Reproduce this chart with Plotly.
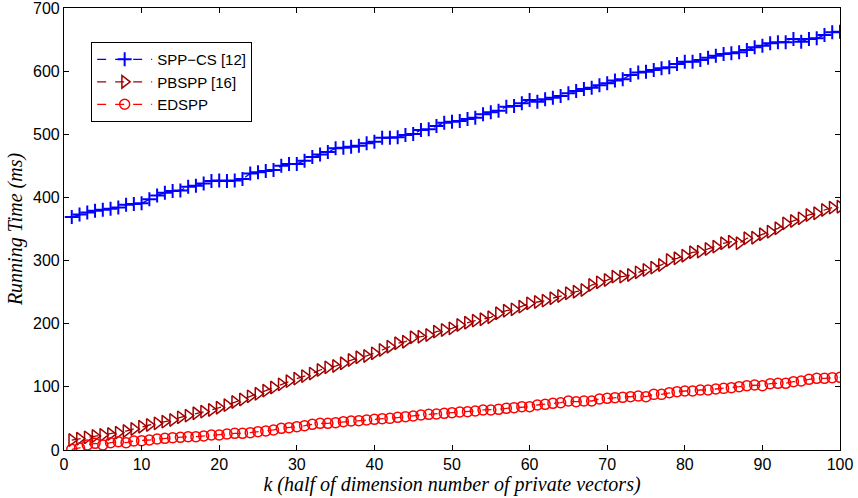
import plotly.graph_objects as go

k = list(range(1, 101))

spp_cs = [369, 373, 376, 379, 380.6, 382, 384, 388.5, 389.6, 390.7,
          397, 403, 407.5, 410, 411, 417, 418.6, 422, 426, 427,
          426, 427, 429, 438, 440, 442, 443.5, 450, 453, 453,
          458, 464, 468, 472, 477.8, 478.8, 480.4, 482, 485.7, 488.3,
          494.7, 494.7, 495.2, 498.9, 500.5, 506.8, 507.9, 513.1, 518.4, 520,
          521, 524.2, 526.3, 531.6, 534.8, 537.4, 543.7, 544.8, 549, 554.3,
          551.7, 555.4, 558, 560.7, 564.9, 568.6, 571.7, 573.8, 577.5, 580.7,
          585, 587, 594, 598, 599, 601.8, 604.5, 606, 611.3, 615,
          615, 617.7, 621.3, 624.5, 627, 628.3, 629.9, 633.5, 637.7, 640.3,
          644, 645.6, 645.6, 651, 646.7, 651, 652, 657.3, 661.5, 662.5]

pbspp = [15.8, 17.9, 20, 22.2, 23.8, 25.3, 27.5, 30, 33.3, 36.9,
         39.6, 42.2, 44.9, 47.5, 51.7, 54.4, 58.1, 60.7, 63.4, 67,
         71, 76, 80, 85, 89, 94, 99, 104, 109, 113,
         117, 121, 126.7, 130.9, 133, 137.3, 142.5, 146.8, 148.9, 153.1,
         158.4, 163.6, 169, 171.5, 178.5, 179.4, 182.1, 187.4, 190, 192.7,
         198, 201.6, 204.8, 207, 210.2, 216.5, 220.6, 222.8, 227, 232.3,
         234.4, 236.5, 240.3, 243.9, 248.2, 250.7, 253.4, 261.3, 265.5, 269.2,
         274.5, 274.5, 277.2, 281.4, 285.1, 288.8, 293, 300.9, 303.6, 307.7,
         313.1, 314.1, 318.3, 322, 327.4, 329.9, 327.4, 335.3, 336.2, 341.6,
         345.7, 351.1, 359, 362.7, 366.9, 372.2, 374.9, 380.1, 383.8, 385.3]

edspp = [1.1, 3.2, 7.9, 10.6, 7.9, 11.6, 13.2, 11.6, 14.3, 14.8,
         15.8, 17.4, 18.5, 19.5, 20.1, 21.1, 21.1, 22.2, 23.8, 23.8,
         25.3, 26.4, 26.4, 27.5, 29, 30.1, 31.7, 34.3, 35.4, 37,
         38.5, 40.6, 42.2, 42.2, 43.3, 44.9, 45.9, 46.5, 47.5, 48.6,
         49.6, 50.1, 51.7, 52.8, 53.8, 55.4, 56.5, 57, 58.1, 59.1,
         60.2, 60.7, 61.8, 63.4, 63.4, 64.4, 66, 67.1, 68.6, 68.6,
         71.3, 72.3, 73.9, 74.9, 77.6, 76.5, 77.6, 77.6, 80.8, 81.8,
         82.9, 83.4, 84.5, 85.5, 84.5, 88.1, 88.1, 90.8, 92.4, 93.4,
         93.4, 95, 95, 96.6, 97.6, 98.7, 100.3, 101.9, 102.9, 101.9,
         105, 105.6, 105.6, 108.2, 109.3, 111.9, 113.5, 113.5, 114.6, 115.1]

x_ticks = [0, 10, 20, 30, 40, 50, 60, 70, 80, 90, 100]
y_ticks = [0, 100, 200, 300, 400, 500, 600, 700]

series = [
    ("SPP\u2212CS [12]", spp_cs, "#0000ff", "cross-thin-open", 10, 2),
    ("PBSPP [16]", pbspp, "#a00000", "triangle-right-open", 11, 1.5),
    ("EDSPP", edspp, "#ff0000", "circle-open", 10, 1.5),
]

fig = go.Figure()
for name, vals, col, sym, sz, lw in series:
    fig.add_trace(go.Scatter(
        x=k, y=vals, name=name, mode="lines+markers",
        line=dict(color=col, width=1.3, dash="dash"),
        marker=dict(symbol=sym, size=sz, color=col, line=dict(color=col, width=lw)),
    ))

axis_common = dict(
    showline=True, linecolor="black", linewidth=1.2, mirror="ticks",
    ticks="inside", ticklen=5, tickcolor="black", showgrid=False, zeroline=False,
    automargin=False, ticklabeloverflow="allow",
    tickfont=dict(family="Liberation Sans, Arial", size=16, color="black"),
)

title_font = dict(family="Liberation Serif, Times New Roman", size=20, color="black", style="italic")

fig.update_layout(
    width=858, height=498,
    margin=dict(l=64, r=18, t=8, b=48, pad=0),
    paper_bgcolor="white", plot_bgcolor="white",
    xaxis=dict(range=[0, 100], tickvals=x_ticks,
               title=dict(text="k (half of dimension number of private vectors)",
                          font=title_font, standoff=2),
               **axis_common),
    yaxis=dict(range=[0, 700], tickvals=y_ticks,
               title=dict(text="Running Time (ms)", font=title_font, standoff=4),
               **axis_common),
    legend=dict(x=0.035, y=0.923, xanchor="left", yanchor="top",
                bordercolor="black", borderwidth=1, bgcolor="white",
                font=dict(family="Liberation Sans, Arial", size=15, color="black"),
                tracegroupgap=0, itemwidth=55),
    showlegend=True,
)

fig.write_html("out.html", config={"displayModeBar": False},
               post_script="document.body.style.margin='0';")
